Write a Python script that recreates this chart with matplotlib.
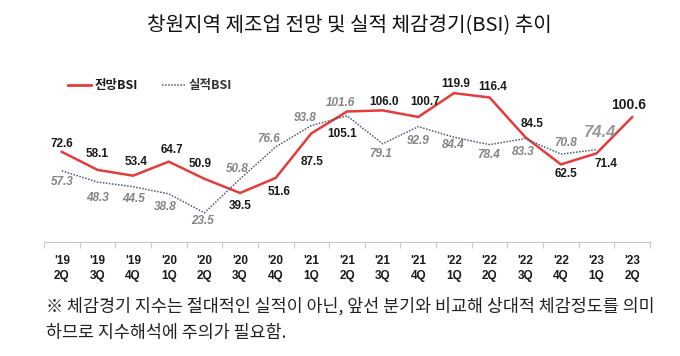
import matplotlib.pyplot as plt
from matplotlib.lines import Line2D

# Quarter labels ('19 2Q ... '23 2Q)
quarters = ["'19\n2Q", "'19\n3Q", "'19\n4Q", "'20\n1Q", "'20\n2Q", "'20\n3Q",
            "'20\n4Q", "'21\n1Q", "'21\n2Q", "'21\n3Q", "'21\n4Q", "'22\n1Q",
            "'22\n2Q", "'22\n3Q", "'22\n4Q", "'23\n1Q", "'23\n2Q"]

# 전망 BSI (forecast) and 실적 BSI (actual, one quarter shorter)
forecast = [72.6, 58.1, 53.4, 64.7, 50.9, 39.5, 51.6, 87.5, 105.1, 106.0,
            100.7, 119.9, 116.4, 84.5, 62.5, 71.4, 100.6]
actual = [57.3, 48.3, 44.5, 38.8, 23.5, 50.8, 76.6, 93.8, 101.6, 79.1,
          92.9, 84.4, 78.4, 83.3, 70.8, 74.4]

# label offsets in pixels (dx, dy) from each point
fc_off = [(0, 8), (0, 16), (3, 14), (3, 12), (-4, 15), (0, -13), (3, -14),
          (1, -29), (-5, -22), (1, 8), (7, 15), (2, 9), (3, 10), (7, 13),
          (5, -10), (9, -11), (-4, 12)]
ac_off = [(0, -11), (0, -16), (0, -12), (-3, -13), (-2, -8), (-3, 10),
          (-7, 8), (-6, 8), (-7, 13), (-2, -10), (0, -14), (-1, -8),
          (-1, -10), (-2, -13), (5, 11), (4, 17)]

KR = ['Noto Sans CJK KR', 'DejaVu Sans']
NUM = ['Liberation Sans', 'DejaVu Sans']
RED = '#e63b3b'
NAVY = '#4a5a7a'
GREY = '#848484'

fig = plt.figure(figsize=(6.8, 3.56), dpi=100)
ax = fig.add_axes([44 / 680, 1 - 242 / 356, 606 / 680, 167 / 356])

x_fc = list(range(len(forecast)))
x_ac = list(range(len(actual)))

ax.plot(x_fc, forecast, color=RED, linewidth=1.8, solid_joinstyle='miter')
ax.plot(x_ac, actual, color=NAVY, linewidth=1.1, linestyle=(0, (1, 1)))

# value labels
for i, v in enumerate(forecast):
    big = i == len(forecast) - 1
    ax.annotate(f'{v:.1f}', xy=(i, v), xytext=fc_off[i], textcoords='offset pixels',
                ha='center', va='center', fontsize=10 if big else 8.5,
                fontweight='bold', color='#1a1a1a', family=NUM)
for i, v in enumerate(actual):
    big = i == len(actual) - 1
    ax.annotate(f'{v:.1f}', xy=(i, v), xytext=ac_off[i], textcoords='offset pixels',
                ha='center', va='center', fontsize=12 if big else 8.5,
                fontweight='bold', style='italic',
                color='#999999' if big else GREY, family=NUM)

# axes formatting
ax.set_xlim(-0.5, len(quarters) - 0.5)
ax.set_ylim(0, 134.5)
ax.set_xticks(x_fc)
ax.set_xticklabels(quarters, fontsize=8.5, fontweight='bold', color='#1a1a1a',
                   family=NUM, linespacing=1.35)
ax.set_xticks([i - 0.5 for i in range(len(quarters) + 1)], minor=True)
ax.tick_params(axis='x', which='major', length=0, pad=9)
ax.tick_params(axis='x', which='minor', length=4, color='#c8c8c8', width=0.8)
ax.set_yticks([])
for s in ['top', 'right', 'left']:
    ax.spines[s].set_visible(False)
ax.spines['bottom'].set_color('#c8c8c8')
ax.spines['bottom'].set_linewidth(0.8)

# legend
handles = [Line2D([], [], color=RED, linewidth=2),
           Line2D([], [], color=NAVY, linewidth=1.1, linestyle=(0, (1, 1)))]
leg = fig.legend(handles, ['전망BSI', '실적BSI'], loc='center left',
                 bbox_to_anchor=(68 / 680, 1 - 86 / 356), ncol=2, frameon=False,
                 prop={'family': KR, 'size': 9, 'weight': 'bold'},
                 handlelength=1.8, handletextpad=0.35, columnspacing=1.9,
                 borderpad=0, borderaxespad=0)
leg.get_texts()[0].set_color('#1a1a1a')
leg.get_texts()[1].set_color('#333333')
leg.get_texts()[1].set_style('italic')

# title and footnote
fig.text(349 / 680, 1 - 26 / 356, '창원지역 제조업 전망 및 실적 체감경기(BSI) 추이',
         ha='center', va='center', fontsize=14.5, family=KR, color='#111111')
fig.text(46 / 680, 1 - 306 / 356,
         '※ 체감경기 지수는 절대적인 실적이 아닌, 앞선 분기와 비교해 상대적 체감정도를 의미',
         ha='left', va='center', fontsize=12.5, family=KR, fontweight='light',
         color='#222222')
fig.text(46 / 680, 1 - 333 / 356, '하므로 지수해석에 주의가 필요함.',
         ha='left', va='center', fontsize=12.5, family=KR, fontweight='light',
         color='#222222')

fig.savefig('out.png', dpi=100)
